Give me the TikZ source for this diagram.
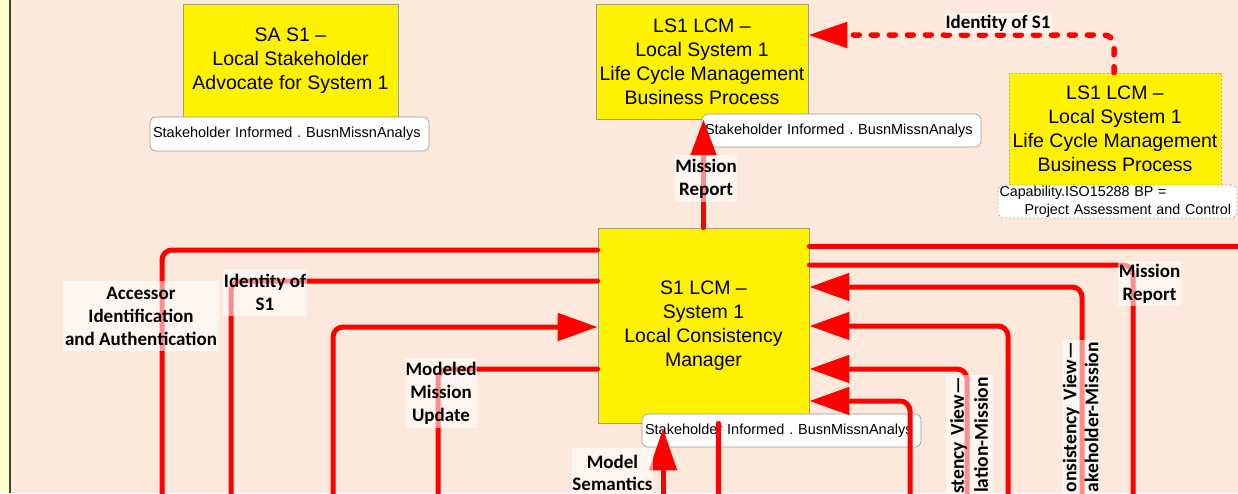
\documentclass[tikz,border=0pt]{standalone}
\usepackage{fontspec}
\setmainfont{Liberation Sans}
\newfontfamily\lblfont{Carlito}
\usetikzlibrary{arrows.meta}
\frenchspacing
\definecolor{peach}{RGB}{252,233,220}
\definecolor{paleyel}{RGB}{255,255,204}
\definecolor{boxedge}{RGB}{160,160,110}
\definecolor{tagedge}{RGB}{150,150,150}
\begin{document}
\begin{tikzpicture}[x=1pt,y=-1pt,
  wire/.style={draw=red, line width=5pt, rounded corners=10pt, line cap=round},
  bigtip/.style={-{Triangle[length=40pt,width=27pt]}},
  box/.style={draw=boxedge, line width=0.8pt, fill=yellow, align=center, font=\fontsize{19.5}{24}\selectfont, inner sep=0pt},
  tag/.style={draw=tagedge, line width=0.6pt, fill=white, rounded corners=6pt, font=\fontsize{14.5}{19}\selectfont, inner ysep=0pt, align=left},
  lbl/.style={fill=white, fill opacity=0.55, text opacity=1, font=\lblfont\bfseries\fontsize{19}{23}\selectfont, align=center, inner sep=0pt}
]
\useasboundingbox (0,0) rectangle (1238,493);
\fill[peach] (0,0) rectangle (1238,493);
\fill[paleyel] (0,0) rectangle (8.5,493);
\fill[black!75] (8.5,0) rectangle (10.5,493);

% boxes
\node[box, minimum width=215pt, minimum height=113pt] (sa) at (290.5,60.5) {SA S1 –\\Local Stakeholder\\Advocate for System 1};
\node[box, minimum width=212pt, minimum height=115pt] (ls1) at (702,61.5) {LS1 LCM –\\Local System 1\\Life Cycle Management\\Business Process};
\node[box, draw=boxedge!80, line width=0.6pt, dash pattern=on 2pt off 2pt, minimum width=212pt, minimum height=112pt] (ls1r) at (1115,129) {LS1 LCM –\\Local System 1\\Life Cycle Management\\Business Process};
\node[box, minimum width=211pt, minimum height=195pt] (s1) at (703.5,325.5) {S1 LCM –\\System 1\\Local Consistency\\Manager};

% tags
\node[tag, minimum height=34pt, text width=273pt, inner xsep=3pt] (tsa) at (289.5,134) {Stakeholder Informed . BusnMissnAnalys};
\node[tag, minimum height=33pt, text width=273pt, inner xsep=3pt] (tls) at (841.5,130.5) {Stakeholder Informed . BusnMissnAnalys};
\node[tag, minimum height=33pt, text width=273pt, inner xsep=3pt] (ts1) at (781.5,430.5) {Stakeholder Informed . BusnMissnAnalys};
\node[tag, draw=tagedge!80, dash pattern=on 2pt off 2pt, minimum height=33pt, text width=236pt, inner xsep=1.5pt, font=\fontsize{14.3}{18}\selectfont] (tcap) at (1117.5,201.5) {Capability.ISO15288 BP =\\\hspace*{25pt}Project Assessment and Control};

% coordinates
\coordinate (A) at (162,250);  \coordinate (Ab) at (162,500);
\coordinate (B) at (231,281);  \coordinate (Bb) at (231,500);
\coordinate (C) at (333,327);  \coordinate (Cb) at (333,500);
\coordinate (D) at (438,369);  \coordinate (Db) at (438,500);
\coordinate (R1) at (1250,246);
\coordinate (R2) at (1133,265); \coordinate (R2b) at (1133,500);
\coordinate (R3) at (1082,287); \coordinate (R3b) at (1082,500);
\coordinate (R4) at (1008,326); \coordinate (R4b) at (1008,500);
\coordinate (R5) at (967,369);  \coordinate (R5b) at (967,500);
\coordinate (R6) at (910,401);  \coordinate (R6b) at (910,500);
\coordinate (M) at (663,500);
\coordinate (N) at (718,500);
\coordinate (Q) at (1114,35);

% wires
\draw[wire] (s1.west |- A) -- (A) -- (Ab);
\draw[wire] (s1.west |- B) -- (B) -- (Bb);
\draw[wire, bigtip] (Cb) -- (C) -- (s1.west |- C);
\draw[wire] (s1.west |- D) -- (D) -- (Db);
\draw[wire] (s1.east |- R1) -- (R1);
\draw[wire] (s1.east |- R2) -- (R2) -- (R2b);
\draw[wire, bigtip] (R3b) -- (R3) -- (s1.east |- R3);
\draw[wire, bigtip] (R4b) -- (R4) -- (s1.east |- R4);
\draw[wire, bigtip] (R5b) -- (R5) -- (s1.east |- R5);
\draw[wire, bigtip] (R6b) -- (R6) -- (s1.east |- R6);
\draw[wire, -{Triangle[length=36pt,width=25pt]}] (s1.north) -- (s1.north |- ls1.south);
\draw[wire, -{Triangle[length=42pt,width=27pt]}] (M) -- ([yshift=-5pt]s1.south -| M);
\draw[wire] (s1.south -| N) -- (N);
\draw[wire, line width=5.5pt, dash pattern=on 6pt off 12pt, -{Triangle[length=39pt,width=25pt]}] (ls1r.north -| Q) -- (Q) -- (ls1.east |- Q);

% labels
\node[lbl, minimum width=156pt, minimum height=70pt] (acc) at (141,316) {Accessor\\Identification\\and Authentication};
\node[lbl, minimum width=84pt, minimum height=47pt] (idl) at (265,292.5) {Identity of\\S1};
\node[lbl, minimum width=72pt, minimum height=70pt] (mmu) at (441,393) {Modeled\\Mission\\Update};
\node[lbl, minimum width=81pt, minimum height=50pt, font=\lblfont\bfseries\fontsize{19}{21.5}\selectfont] (ms) at (612.5,473) {Model\\Semantics};
\node[lbl, minimum width=62pt, minimum height=47pt] (mr1) at (706,178.5) {Mission\\Report};
\node[lbl, minimum width=63pt, minimum height=45pt] (mr2) at (1149.5,283.5) {Mission\\Report};
\node[lbl, minimum width=107pt, minimum height=20pt] (id2) at (998,23) {Identity of S1};
\node[lbl, rotate=90, anchor=east, align=right, text width=156pt, inner xsep=2pt, minimum height=37pt, font=\lblfont\bfseries\fontsize{19.5}{22}\selectfont] (cv1) at (1080.5,340) {onsistency View—\\akeholder-Mission};
\node[lbl, rotate=90, anchor=east, align=right, text width=120pt, inner xsep=2pt, minimum height=47pt, font=\lblfont\bfseries\fontsize{19.5}{24}\selectfont] (cv2) at (969,375) {stency View—\\lation-Mission};
\end{tikzpicture}
\end{document}
